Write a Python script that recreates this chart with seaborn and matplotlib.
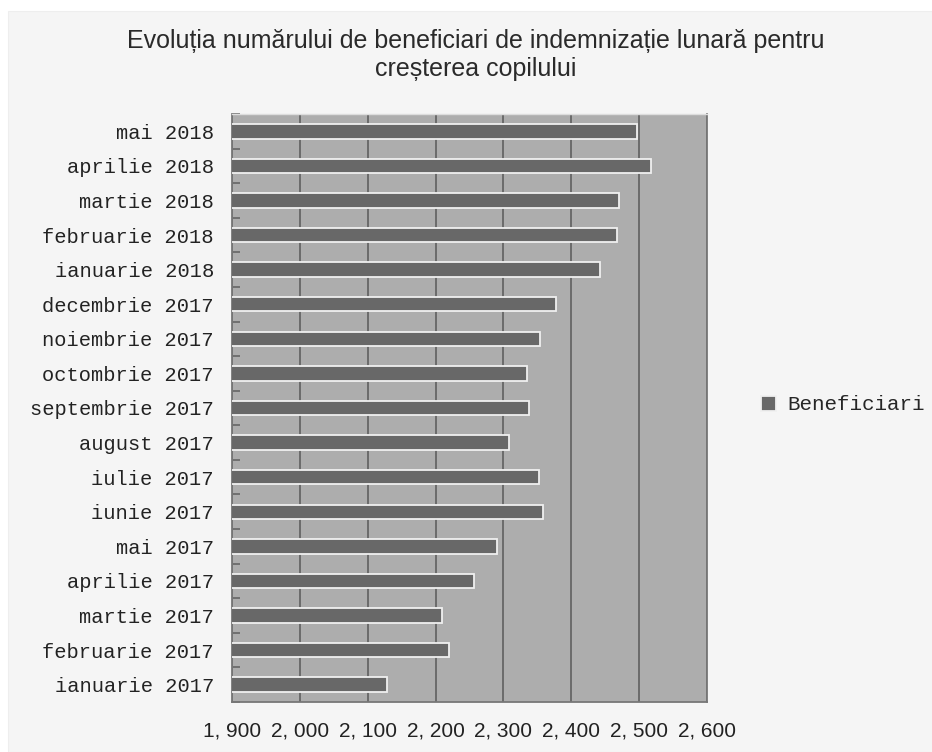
import matplotlib
matplotlib.use("Agg")
import matplotlib.pyplot as plt
import seaborn as sns
import pandas as pd
from matplotlib.patches import Rectangle
from matplotlib.ticker import FixedLocator, FuncFormatter

# luni (de sus in jos, ca in grafic)
luni = ["mai 2018", "aprilie 2018", "martie 2018", "februarie 2018",
        "ianuarie 2018", "decembrie 2017", "noiembrie 2017", "octombrie 2017",
        "septembrie 2017", "august 2017", "iulie 2017", "iunie 2017",
        "mai 2017", "aprilie 2017", "martie 2017", "februarie 2017",
        "ianuarie 2017"]
beneficiari = [2497, 2518, 2471, 2468, 2442, 2378, 2354, 2334,
               2337, 2308, 2352, 2358, 2291, 2256, 2209, 2220, 2128]
x_ticks = [1900, 2000, 2100, 2200, 2300, 2400, 2500, 2600]

df = pd.DataFrame({"luna": luni, "Beneficiari": beneficiari})

sns.set_theme(style="white")
mono = ["Liberation Mono", "DejaVu Sans Mono"]
sans = ["Liberation Sans", "DejaVu Sans"]

fig = plt.figure(figsize=(9.32, 7.52), dpi=100, facecolor="white")
fig.patches.append(Rectangle((8 / 932, 0), 1, 1 - 11 / 752, transform=fig.transFigure,
                             facecolor="#f5f5f5", edgecolor="#eeeeee", lw=0.8, zorder=-10))

ax = fig.add_axes([232 / 932, 1 - 702 / 752, 475 / 932, 588 / 752])
ax.set_facecolor("#adadad")

sns.barplot(data=df, x="Beneficiari", y="luna", orient="h", color="#686868",
            saturation=1, width=0.42, edgecolor="#f0f0f0", linewidth=1.3,
            ax=ax, zorder=3, label="Beneficiari")

ax.set_xlim(1900, 2600)
ax.set_ylim(len(luni) - 0.5, -0.5)
ax.xaxis.set_major_locator(FixedLocator(x_ticks))
ax.xaxis.set_major_formatter(FuncFormatter(lambda v, p: f"{v:,.0f}".replace(",", ", ")))
ax.grid(axis="x", color="#666666", linewidth=1.3, zorder=1)
ax.set_axisbelow(True)

ax.yaxis.set_minor_locator(FixedLocator([i - 0.5 for i in range(len(luni) + 1)]))
ax.tick_params(axis="y", which="minor", direction="in", length=6, width=1.2,
               color="#666666", left=True)
ax.tick_params(axis="y", which="major", length=0, pad=13)
ax.tick_params(axis="x", which="major", length=0, pad=14)

for lab in ax.get_yticklabels():
    lab.set_fontfamily(mono)
    lab.set_fontsize(14.7)
    lab.set_color("#222222")
for lab in ax.get_xticklabels():
    lab.set_fontfamily(sans)
    lab.set_fontsize(15)
    lab.set_color("#222222")

for side in ["left", "bottom", "right"]:
    ax.spines[side].set_color("#777777")
    ax.spines[side].set_linewidth(1.3)
ax.spines["top"].set_color("#dddddd")
ax.spines["top"].set_linewidth(1)

ax.set_xlabel("")
ax.set_ylabel("")
if ax.get_legend() is not None:
    ax.get_legend().remove()

handles, labels = ax.get_legend_handles_labels()
fig.legend(handles[:1], labels[:1], loc="center left",
           bbox_to_anchor=(742 / 932, 1 - 405 / 752), frameon=False,
           handlelength=0.75, handleheight=0.75, handletextpad=0.55,
           prop={"family": mono, "size": 15})

fig.text(476 / 932, 1 - 29 / 752,
         "Evoluția numărului de beneficiari de indemnizație lunară pentru\ncreșterea copilului",
         ha="center", va="top", fontsize=18, family=sans, color="#2a2a2a",
         linespacing=1.2)

fig.savefig("out.png", dpi=100, facecolor=fig.get_facecolor())
